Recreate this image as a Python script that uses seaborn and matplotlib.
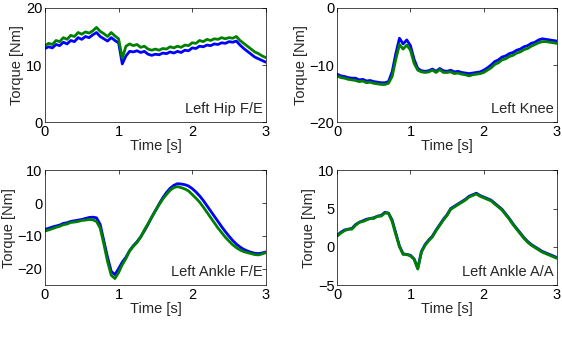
import numpy as np
import matplotlib
matplotlib.use("Agg")
import matplotlib.pyplot as plt
import seaborn as sns

# time axis (s), one sample every 0.05 s
t = np.round(np.arange(0, 3.0001, 0.05), 2)

# Left Hip F/E
hip_blue = [12.9, 13.2, 13.0, 13.6, 13.4, 14.0, 13.7, 14.3, 14.1, 14.8, 14.5, 15.0, 14.8, 15.3, 15.7, 15.0,
            14.6, 14.2, 14.8, 14.3, 13.9, 10.2, 11.6, 12.4, 12.3, 12.5, 12.2, 12.4, 11.9, 11.7, 11.9, 11.8,
            12.1, 12.0, 12.3, 12.1, 12.4, 12.2, 12.6, 12.5, 13.0, 12.9, 13.3, 13.2, 13.5, 13.4, 13.7, 13.6,
            13.9, 13.8, 14.1, 14.0, 14.2, 13.5, 12.9, 12.4, 11.9, 11.4, 11.1, 10.8, 10.5]
hip_green = [13.4, 13.8, 13.6, 14.3, 14.1, 14.8, 14.5, 15.2, 15.0, 15.7, 15.4, 15.8, 15.6, 16.0, 16.6, 15.9,
             15.5, 15.0, 15.7, 15.1, 14.6, 11.2, 13.3, 13.7, 13.4, 13.6, 13.1, 13.3, 12.8, 12.6, 12.8, 12.6,
             12.9, 12.8, 13.2, 13.0, 13.3, 13.1, 13.5, 13.4, 13.9, 13.8, 14.3, 14.1, 14.5, 14.3, 14.6, 14.5,
             14.8, 14.6, 14.8, 14.7, 15.0, 14.3, 13.8, 13.3, 12.8, 12.3, 12.0, 11.6, 11.3]

# Left Knee
knee_blue = [-11.6, -11.9, -12.0, -12.2, -12.3, -12.3, -12.6, -12.5, -12.8, -12.7, -12.9, -13.0, -13.1, -13.1,
             -12.9, -11.2, -8.0, -5.3, -6.3, -5.6, -6.6, -9.0, -10.6, -11.0, -11.1, -11.0, -10.7, -11.1, -10.6,
             -11.0, -11.1, -10.9, -11.2, -11.1, -11.3, -11.4, -11.5, -11.4, -11.3, -11.2, -10.9, -10.5, -10.0,
             -9.4, -9.1, -8.6, -8.4, -8.0, -7.8, -7.4, -7.2, -6.8, -6.6, -6.2, -6.0, -5.6, -5.4, -5.5, -5.6,
             -5.7, -5.8]
knee_green = [-11.9, -12.2, -12.3, -12.5, -12.6, -12.7, -12.9, -12.8, -13.1, -13.0, -13.2, -13.3, -13.4, -13.4,
              -13.2, -12.0, -9.0, -6.4, -7.2, -6.5, -7.4, -9.7, -10.9, -11.2, -11.3, -11.2, -10.9, -11.3, -10.8,
              -11.3, -11.3, -11.2, -11.5, -11.4, -11.6, -11.7, -11.9, -11.7, -11.6, -11.5, -11.3, -10.9, -10.5,
              -9.9, -9.6, -9.1, -8.9, -8.5, -8.3, -7.9, -7.7, -7.3, -7.1, -6.7, -6.4, -6.1, -5.9, -5.9, -6.0,
              -6.1, -6.2]

# Left Ankle F/E
ank_fe_blue = [-8.0, -7.7, -7.3, -7.0, -6.7, -6.2, -6.0, -5.6, -5.4, -5.2, -5.0, -4.7, -4.4, -4.3, -4.5, -6.5,
               -11.5, -16.5, -20.8, -21.8, -20.0, -18.0, -16.5, -14.5, -13.0, -11.8, -10.3, -8.5, -6.5, -4.3,
               -2.3, -0.3, 1.6, 3.2, 4.5, 5.4, 5.9, 5.8, 5.6, 5.2, 4.4, 3.4, 2.2, 0.8, -0.8, -2.4, -4.0, -5.6,
               -7.2, -8.7, -10.1, -11.4, -12.5, -13.4, -14.1, -14.6, -15.0, -15.3, -15.4, -15.2, -14.9]
ank_fe_green = [-8.5, -8.2, -7.8, -7.4, -7.1, -6.6, -6.4, -5.9, -5.8, -5.6, -5.3, -5.2, -5.0, -5.1, -5.6, -7.6,
                -12.5, -17.8, -22.0, -23.0, -21.2, -18.8, -16.9, -14.6, -13.2, -12.0, -10.4, -8.2, -6.3, -4.3,
                -2.4, -0.5, 1.2, 2.6, 3.9, 4.7, 5.0, 4.7, 4.3, 3.7, 2.6, 1.5, 0.3, -1.2, -2.8, -4.4, -6.0, -7.6,
                -9.0, -10.4, -11.6, -12.7, -13.6, -14.3, -14.8, -15.1, -15.4, -15.7, -15.8, -15.5, -15.1]

# Left Ankle A/A
ank_aa_blue = [1.5, 1.9, 2.2, 2.3, 2.4, 2.9, 3.2, 3.4, 3.6, 3.7, 3.8, 4.0, 4.1, 4.5, 4.4, 3.5, 1.8, 0.1, -0.9,
               -1.0, -1.1, -1.6, -2.8, -0.6, 0.3, 0.9, 1.4, 2.2, 2.9, 3.6, 4.2, 5.0, 5.3, 5.6, 5.9, 6.2, 6.6,
               6.8, 7.0, 6.7, 6.5, 6.3, 6.1, 5.7, 5.3, 4.9, 4.3, 3.7, 3.0, 2.4, 1.8, 1.2, 0.7, 0.3, 0.0, -0.3,
               -0.6, -0.8, -1.0, -1.2, -1.4]
ank_aa_green = [1.4, 1.8, 2.1, 2.3, 2.3, 2.8, 3.2, 3.3, 3.5, 3.7, 3.7, 4.0, 4.0, 4.4, 4.4, 3.3, 1.6, 0.0, -1.0,
                -1.0, -1.2, -1.6, -2.9, -0.7, 0.2, 0.8, 1.3, 2.1, 2.8, 3.5, 4.1, 4.9, 5.2, 5.5, 5.8, 6.1, 6.5,
                6.7, 6.9, 6.6, 6.4, 6.2, 6.0, 5.6, 5.2, 4.8, 4.2, 3.6, 2.9, 2.3, 1.7, 1.1, 0.6, 0.2, -0.1, -0.4,
                -0.7, -0.9, -1.1, -1.3, -1.5]

panels = [
    ("Left Hip F/E", hip_blue, hip_green, (0, 20), [0, 10, 20]),
    ("Left Knee", knee_blue, knee_green, (-20, 0), [-20, -10, 0]),
    ("Left Ankle F/E", ank_fe_blue, ank_fe_green, (-25, 10), [-20, -10, 0, 10]),
    ("Left Ankle A/A", ank_aa_blue, ank_aa_green, (-5, 10), [-5, 0, 5, 10]),
]

sns.set_style("white")
plt.rcParams['font.family'] = ['Liberation Sans', 'DejaVu Sans']
fs = 10.5

fig = plt.figure(figsize=(5.62, 3.46), dpi=100)
rects = [
    [0.080, 0.647, 0.393, 0.330],
    [0.600, 0.647, 0.391, 0.330],
    [0.080, 0.176, 0.393, 0.332],
    [0.600, 0.176, 0.391, 0.332],
]

for rect, (name, blue, green, ylim, yticks) in zip(rects, panels):
    ax = fig.add_axes(rect)
    sns.lineplot(x=t, y=blue, color=(0, 0, 1), linewidth=2.0, ax=ax)
    sns.lineplot(x=t, y=green, color=(0, 0.5, 0), linewidth=2.0, ax=ax)
    ax.set_xlim(0, 3)
    ax.set_ylim(*ylim)
    ax.set_xticks([0, 1, 2, 3])
    ax.set_yticks(yticks)
    ax.set_xlabel("Time [s]", fontsize=fs, labelpad=0)
    ax.set_ylabel("Torque [Nm]", fontsize=fs, labelpad=1)
    ax.tick_params(direction='in', length=3, width=0.5, top=True, right=True,
                   labelsize=fs, pad=2, colors='black')
    for s in ax.spines.values():
        s.set_linewidth(0.5)
        s.set_color('black')
    ax.text(0.985, 0.05, name, transform=ax.transAxes, ha='right', va='bottom', fontsize=fs)

fig.savefig("out.png", dpi=100)
